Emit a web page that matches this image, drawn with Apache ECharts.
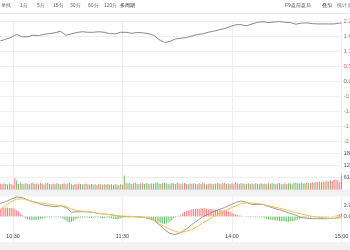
<!DOCTYPE html>
<html><head><meta charset="utf-8">
<script src="https://cdn.jsdelivr.net/npm/echarts@6/dist/echarts.min.js"></script>
<style>html,body{margin:0;padding:0;background:#fff}#c{width:350px;height:250px}</style>
</head><body><div id="c"></div>
<script>
// ---- data (minute index: 0 = 09:30, 120 = 11:30/13:00, 240 = 15:00) ----
const sampleMinutes = [53,56,59,62,65,68,71,74,77,80,83,86,89,92,95,98,101,104,107,110,113,116,119,122,125,128,131,134,137,140,143,146,149,152,155,158,161,164,167,170,173,176,179,182,185,188,191,194,197,200,203,206,209,212,215,218,221,224,227,230,233,236,239,240];
const pricePct = [1.50,1.56,1.63,1.74,1.65,1.65,1.71,1.70,1.74,1.77,1.80,1.86,1.71,1.76,1.81,1.84,1.82,1.82,1.84,1.82,1.77,1.76,1.82,1.82,1.78,1.81,1.80,1.77,1.71,1.55,1.44,1.48,1.57,1.60,1.62,1.68,1.74,1.76,1.82,1.86,1.91,1.96,2.03,2.10,2.10,2.06,2.13,2.19,2.21,2.18,2.20,2.22,2.19,2.18,2.12,2.16,2.17,2.14,2.13,2.13,2.13,2.13,2.16,2.16];
const difValues = [3.55,3.98,4.70,5.24,5.11,4.44,3.98,3.49,3.04,2.82,2.66,2.88,2.42,1.16,1.26,1.29,1.26,1.08,0.81,0.67,0.51,0.27,0.03,-0.05,-0.05,-0.08,-0.19,-0.48,-0.99,-2.15,-3.49,-4.57,-4.84,-4.30,-3.36,-2.15,-1.08,-0.13,0.67,1.34,1.88,2.42,3.09,3.76,4.17,3.82,3.23,3.20,3.25,2.69,2.23,1.80,1.34,0.81,0.35,-0.27,-0.48,-0.56,-0.59,-0.59,-0.56,-0.48,-0.19,-0.05];
const deaValues = [1.94,2.96,4.03,4.65,4.76,4.44,4.03,3.74,3.49,3.25,3.09,2.93,2.66,2.02,1.61,1.42,1.32,1.10,0.86,0.67,0.48,0.32,0.16,0.08,0.00,-0.05,-0.19,-0.27,-0.78,-1.96,-2.69,-3.36,-4.03,-4.30,-4.03,-3.49,-2.69,-1.75,-0.89,0.00,0.81,1.48,2.23,2.88,3.41,3.68,3.60,3.47,3.28,2.93,2.55,2.23,1.88,1.48,1.05,0.67,0.32,0.05,-0.13,-0.32,-0.46,-0.48,-0.40,-0.35];

const firstBarMinute = 53;
const volumes = [
 30,26,32,28,25,30,27,24,57,45,
 28,34,30,26,33,29,27,31,35,28,
 30,27,33,29,25,31,34,28,26,30,
 27,32,29,25,28,31,26,30,33,27,
 24,29,26,31,28,25,27,30,26,24,
 28,25,27,23,29,26,24,27,25,28,
 24,26,23,27,25,22,26,24,
 70,34,30,33,28,31,35,29,27,30,
 32,28,34,30,27,31,29,33,36,30,
 28,32,35,31,29,27,33,30,28,34,
 31,27,30,33,29,26,30,28,32,29,
 27,31,28,35,30,26,29,32,28,27,
 30,33,29,26,31,34,28,30,27,32,
 29,38,31,28,33,30,26,29,32,28,
 30,27,31,29,26,33,28,30,27,31,
 29,32,28,26,30,33,29,27,31,28,
 32,30,27,33,35,31,29,34,30,32,
 35,31,33,37,34,38,36,40,37,42,
 39,44,41,46,43,48,50,46,38,72];
const volumeDir = [
 1,1,-1,1,1,-1,1,1,1,-1,
 -1,1,-1,-1,1,-1,1,1,-1,1,
 1,-1,1,1,-1,1,-1,-1,1,1,
 -1,1,-1,-1,1,1,-1,1,-1,-1,
 1,-1,1,1,-1,1,-1,1,1,-1,
 -1,1,-1,1,1,-1,1,-1,1,-1,
 1,-1,1,-1,-1,1,-1,1,
 -1,1,-1,-1,1,-1,-1,1,-1,-1,
 1,-1,-1,1,-1,-1,1,-1,-1,-1,
 -1,1,-1,-1,-1,1,-1,-1,1,-1,
 1,1,-1,1,1,-1,1,1,-1,1,
 1,-1,1,1,-1,1,1,-1,1,1,
 -1,1,1,-1,1,1,-1,1,-1,1,
 1,1,-1,1,-1,1,1,-1,1,-1,
 -1,1,-1,1,-1,-1,1,-1,1,-1,
 1,-1,-1,1,-1,-1,1,-1,-1,1,
 -1,-1,1,-1,-1,-1,1,-1,-1,-1,
 1,-1,1,1,-1,1,1,1,-1,1,
 1,1,-1,1,1,1,1,1,1,-1];
const macdHist = [
 2.0,2.2,2.3,2.4,2.4,2.3,2.3,2.2,2.0,1.7,1.4,
 0.9,0.4,
 -0.3,-0.6,-0.8,-0.9,-1.0,-1.0,-0.9,-0.9,-0.8,-0.7,-0.6,-0.5,
 -0.3,-0.2,-0.2,-0.2,-0.1,-0.2,-0.2,-0.2,-0.3,-0.5,
 -0.8,-1.1,-1.4,-1.6,-1.5,-1.2,-0.9,-0.6,
 -0.4,-0.3,-0.3,-0.2,-0.3,-0.3,-0.4,-0.4,-0.3,-0.3,-0.2,-0.3,-0.4,-0.5,-0.4,-0.3,-0.3,-0.4,-0.5,-0.6,-0.7,
 -0.8,-0.7,-0.5,-0.3,
 -0.2,-0.1,-0.2,-0.2,-0.1,-0.1,-0.2,-0.2,-0.3,-0.3,-0.2,-0.3,-0.4,-0.5,-0.6,
 -0.8,-1.0,-1.2,-1.4,-1.6,-1.8,-1.9,-2.0,-1.9,-1.7,-1.4,-1.0,-0.5,
 -0.3,-0.1,0.2,0.5,0.9,1.2,1.5,1.7,1.8,1.9,2.0,2.0,2.1,2.1,2.2,2.2,2.2,2.1,2.1,2.0,2.0,1.9,1.9,1.8,1.8,1.7,1.7,1.6,1.5,1.4,1.2,1.0,0.8,0.6,0.4,0.3,
 0.2,0.1,0.1,
 -0.1,-0.1,-0.2,-0.1,-0.1,-0.2,-0.2,-0.1,-0.2,-0.3,
 -0.5,-0.7,-0.8,-0.9,-1.0,-1.0,-1.1,-1.1,-1.2,-1.2,-1.3,-1.3,-1.4,-1.4,-1.3,-1.3,-1.2,-1.0,-0.8,-0.6,-0.5,
 -0.4,-0.3,-0.3,-0.2,-0.3,-0.2,-0.2,-0.1,-0.2,-0.1,-0.1,-0.2,-0.1,-0.1,-0.1,0.0,-0.1,0.1,
 0.3,0.5,0.7,0.8];

const timeTickLabels = {0:'09:30', 60:'10:30', 120:'11:30', 180:'14:00', 240:'15:00'};
const priceAxisMax = 2.22;
const volumeAxisMax = 244;
const volumeStep = 61;
const macdLabelValues = [-1.21, 0, 3.09];
const toolbarLeft = ['单线','1分','5分','15分','30分','60分','120分','多周期'];
const toolbarRight = ['F9盘前盘后','叠加','统计','画线'];

// ---- layout / style ----
const toolbarLeftX = [1,20,37,53,70,88,104,120];
const toolbarRightX = [285,322,337,348];
const RED = '#ee5a5a', GREEN = '#4fae4f', GRIDC = '#eeeeee';
const BAR_RED = '#f27c7c', BAR_GREEN = '#6cbf6c';
const FONT = 'Liberation Sans, Noto Sans CJK SC, sans-serif';
const gl = -96.5, gr = 8.5;

const barMinutes = volumes.map((_, i) => firstBarMinute + i);
const zip = (xs, ys) => xs.map((x, i) => [x, ys[i]]);

const chart = echarts.init(document.getElementById('c'), null, {renderer: 'canvas'});
const xAxisBase = (i) => ({
  type: 'value', gridIndex: i, min: 0, max: 240, interval: 60,
  axisLine: {show: false}, axisTick: {show: false},
  splitLine: {show: true, lineStyle: {color: GRIDC, width: 1}},
  axisLabel: {show: false}
});
const x2 = xAxisBase(2);
x2.axisLabel = {show: true, inside: true, margin: 2, fontSize: 5.5, color: '#444', fontFamily: FONT,
  hideOverlap: false, formatter: v => timeTickLabels[v] || ''};
const gridBase = {left: gl, right: gr, containLabel: false, outerBoundsMode: 'none'};

chart.setOption({
  animation: false,
  textStyle: {fontFamily: FONT},
  grid: [
    Object.assign({top: 21.5, height: 119.5}, gridBase),
    Object.assign({top: 141, height: 48.5}, gridBase),
    Object.assign({top: 196.5, height: 45}, gridBase)
  ],
  xAxis: [xAxisBase(0), xAxisBase(1), x2],
  yAxis: [
    {type: 'value', gridIndex: 0, position: 'right', min: -priceAxisMax, max: priceAxisMax, interval: priceAxisMax / 4,
     axisLine: {show: false}, axisTick: {show: false},
     splitLine: {show: true, lineStyle: {color: GRIDC}},
     axisLabel: {fontSize: 6, margin: 2, fontFamily: FONT, hideOverlap: false,
       formatter: v => (Math.abs(v) < 1e-6 ? 0 : v).toFixed(2) + '%',
       color: v => (v > 1e-6 ? RED : (v < -1e-6 ? GREEN : '#666'))}},
    {type: 'value', gridIndex: 1, position: 'right', min: 0, max: volumeAxisMax, interval: volumeStep,
     axisLine: {show: false}, axisTick: {show: false},
     splitLine: {show: true, lineStyle: {color: GRIDC}},
     axisLabel: {fontSize: 6, margin: 2, color: '#555', fontFamily: FONT, hideOverlap: false,
       formatter: v => (v <= 0 || v >= volumeAxisMax) ? '' : String(v)}},
    {type: 'value', gridIndex: 2, position: 'right', min: -6.72, max: 5.38,
     axisLine: {show: false}, axisTick: {show: false},
     splitLine: {show: false},
     axisLabel: {fontSize: 6, margin: 2, color: '#555', fontFamily: FONT, customValues: macdLabelValues,
       hideOverlap: false, formatter: v => v.toFixed(2)}}
  ],
  graphic: [
    {type: 'rect', z: -10, shape: {x: 0, y: 189.5, width: 350, height: 7}, style: {fill: '#f2f2f2'}},
    {type: 'rect', z: -10, shape: {x: 0, y: 242, width: 350, height: 8}, style: {fill: '#f2f2f2'}},
    {type: 'line', shape: {x1: 0, y1: 13.5, x2: 350, y2: 13.5}, style: {stroke: '#e6e6e6', lineWidth: 1}},
    ...toolbarLeft.map((t, i) => ({type: 'text', x: toolbarLeftX[i], y: 6, style: {text: t, fontSize: 5,
      fill: i === toolbarLeft.length - 1 ? '#222' : '#666', font: '5px Noto Sans CJK SC', verticalAlign: 'middle'}})),
    ...toolbarRight.map((t, i) => ({type: 'text', x: toolbarRightX[i], y: 6, style: {text: t, fontSize: 5,
      fill: '#555', font: '5px Noto Sans CJK SC', verticalAlign: 'middle'}}))
  ],
  series: [
    {type: 'line', xAxisIndex: 0, yAxisIndex: 0, data: zip(sampleMinutes, pricePct), showSymbol: false,
     lineStyle: {color: '#888', width: 1}},
    {type: 'bar', xAxisIndex: 1, yAxisIndex: 1, barWidth: 1,
     data: volumes.map((v, i) => ({value: [barMinutes[i], v], itemStyle: {color: volumeDir[i] > 0 ? BAR_RED : BAR_GREEN}}))},
    {type: 'bar', xAxisIndex: 2, yAxisIndex: 2, barWidth: 1,
     data: macdHist.map((v, i) => ({value: [barMinutes[i], v], itemStyle: {color: v >= 0 ? BAR_RED : BAR_GREEN}}))},
    {type: 'line', xAxisIndex: 2, yAxisIndex: 2, data: zip(sampleMinutes, difValues), showSymbol: false,
     lineStyle: {color: '#999', width: 1}},
    {type: 'line', xAxisIndex: 2, yAxisIndex: 2, data: zip(sampleMinutes, deaValues), showSymbol: false,
     lineStyle: {color: '#f2c14e', width: 1}}
  ]
});
</script></body></html>
